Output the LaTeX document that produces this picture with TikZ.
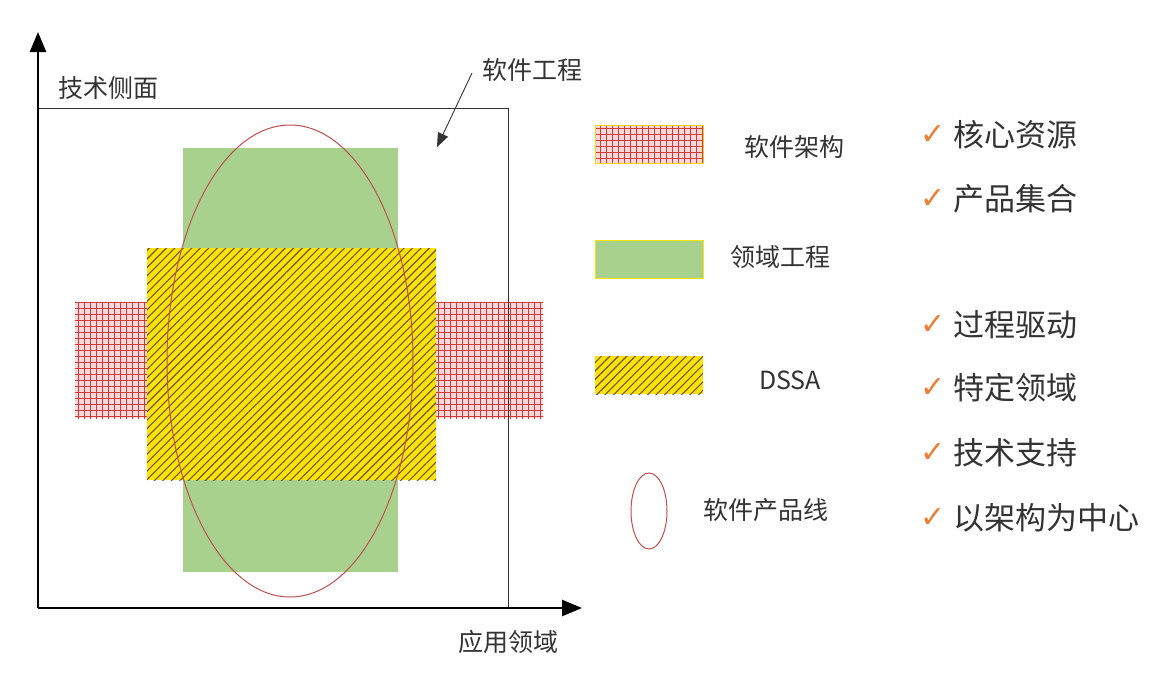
\documentclass[tikz,border=0pt]{standalone}
\usepackage{fontspec}
\setmainfont{Noto Sans CJK SC}
\newfontfamily\symfont{DejaVu Sans}
\usetikzlibrary{arrows.meta,patterns.meta,shapes.geometric}
\definecolor{gridred}{HTML}{D23A3A}
\definecolor{gridbg}{HTML}{F8D8D8}
\definecolor{dssayellow}{HTML}{FFE20A}
\definecolor{dssaline}{HTML}{6A5A18}
\definecolor{domgreen}{HTML}{A9D18E}
\definecolor{plred}{HTML}{C0504D}
\definecolor{txt}{HTML}{333333}
\definecolor{chk}{HTML}{ED7D31}
\tikzset{
  archfill/.style={fill=gridbg, postaction={pattern={Hatch[angle=0,distance=6pt,line width=0.8pt]}, pattern color=gridred}},
  dssafill/.style={fill=dssayellow, postaction={pattern={Lines[angle=45,distance=6pt,line width=1.1pt]}, pattern color=dssaline}},
  domfill/.style={fill=domgreen},
  axis/.style={line width=2.6pt, -{Triangle[length=20pt,width=16pt]}},
  lbl/.style={font=\fontsize{25}{28}\selectfont, text=txt, inner sep=0pt},
  chkitem/.style={font=\fontsize{31}{34}\selectfont, text=txt, inner sep=0pt, anchor=west},
  chkmark/.style={font=\symfont\fontsize{30}{32}\selectfont, text=chk, inner sep=0pt},
}
\begin{document}
\begin{tikzpicture}[x=1pt,y=-1pt]
\useasboundingbox (0,0) rectangle (1162,686);
% coordinates
\coordinate (O) at (38,608);
\coordinate (Ytip) at (38,32);
\coordinate (Xtip) at (582,608);
% green (domain engineering)
\fill[domfill] (183,148) rectangle (398,572);
% red grid (software architecture)
\fill[archfill] (75,302) rectangle (147,418);
\fill[archfill] (436,302) rectangle (543,418);
% yellow hatched (DSSA)
\fill[dssafill] (147,248) rectangle (436,480);
% ellipse (software product line)
\node[draw=plred, line width=1pt, ellipse, minimum width=246pt, minimum height=472pt, inner sep=0pt] (spl) at (290,361) {};
% frame
\draw[line width=0.9pt, black!80] (38,108) -- (508,108) -- (508,608);
% axes
\draw[axis] (O) -- (Ytip);
\draw[axis] (O) -- (Xtip);
% labels
\node[lbl, anchor=west] (tech) at (58,88) {技术侧面};
\node[lbl] (se) at (532,70) {软件工程};
\node[lbl] (app) at (508,642) {应用领域};
\coordinate (seArrowStart) at (472,73);
\coordinate (seArrowEnd) at (437,147);
\draw[line width=0.9pt, black!80, -{Triangle[length=14pt,width=11pt]}] (seArrowStart) -- (seArrowEnd);
% legend
\fill[archfill] (595,125) rectangle (703,163);
\draw[dssayellow!85!orange, line width=1pt] (595,125) rectangle (703,163);
\node[lbl] (lArch) at (794,147) {软件架构};
\fill[domfill] (595,240) rectangle (703,278);
\draw[dssayellow, line width=1pt] (595,240) rectangle (703,278);
\node[lbl] (lDom) at (780,257) {领域工程};
\fill[dssafill] (595,356) rectangle (703,394);
\node[lbl] (lDssa) at (790,380) {DSSA};
\node[draw=plred, line width=1pt, ellipse, minimum width=36pt, minimum height=76pt, inner sep=0pt] (lSpl) at (649,511) {};
\node[lbl] (lSplT) at (766,510) {软件产品线};
% checklist
\foreach \y/\t/\n in {135/核心资源/c1, 199/产品集合/c2, 325/过程驱动/c3, 388/特定领域/c4, 453/技术支持/c5, 518/以架构为中心/c6}{
  \node[chkmark] (m\n) at (933,\y) {✓};
  \node[chkitem] (\n) at (953,\y) {\t};
}
\end{tikzpicture}
\end{document}
